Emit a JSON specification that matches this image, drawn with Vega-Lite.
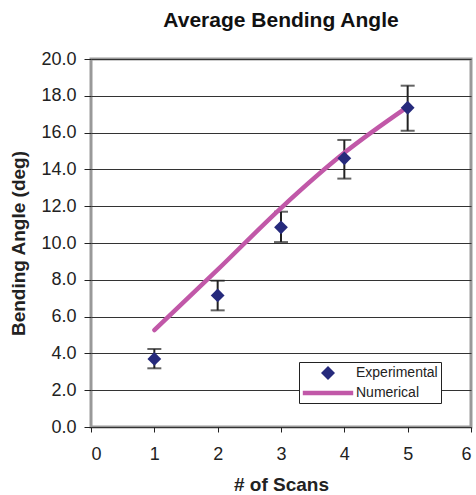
{
  "$schema": "https://vega.github.io/schema/vega-lite/v6.json",
  "autosize": "none",
  "width": 380,
  "height": 368,
  "padding": {"left": 91, "top": 59, "right": 5, "bottom": 68},
  "background": "white",
  "config": {
    "font": "Liberation Sans",
    "view": {"stroke": "#999999", "strokeWidth": 3}
  },
  "title": {
    "text": "Average Bending Angle",
    "fontSize": 21,
    "fontWeight": "bold",
    "color": "#111111",
    "anchor": "middle",
    "frame": "group",
    "offset": 19
  },
  "data": {
    "values": [
      {"scan": 1, "exp": 3.7, "lo": 3.19, "hi": 4.24, "num": 5.27},
      {"scan": 2, "exp": 7.15, "lo": 6.34, "hi": 7.95, "num": 8.55},
      {"scan": 3, "exp": 10.85, "lo": 10.05, "hi": 11.7, "num": 11.9},
      {"scan": 4, "exp": 14.6, "lo": 13.5, "hi": 15.6, "num": 14.9},
      {"scan": 5, "exp": 17.35, "lo": 16.1, "hi": 18.55, "num": 17.4}
    ]
  },
  "encoding": {
    "x": {
      "field": "scan",
      "type": "quantitative",
      "scale": {"domain": [0, 6], "nice": false},
      "axis": {
        "title": "# of Scans",
        "values": [0, 1, 2, 3, 4, 5, 6],
        "tickCount": 20,
        "format": "d",
        "grid": false,
        "domain": false,
        "ticks": true,
        "tickColor": "#222222",
        "tickSize": 5,
        "labelFontSize": 18,
        "labelColor": "#222222",
        "labelPadding": 13,
        "labelOverlap": false,
        "titleFontSize": 19,
        "titleFontWeight": "bold",
        "titleColor": "#222222",
        "titlePadding": 12
      }
    }
  },
  "layer": [
    {
      "mark": {"type": "rule", "color": "#222222", "strokeWidth": 2},
      "encoding": {
        "y": {
          "field": "lo",
          "type": "quantitative",
          "scale": {"domain": [0, 20], "nice": false},
          "axis": {
            "title": "Bending Angle (deg)",
            "values": [0, 2, 4, 6, 8, 10, 12, 14, 16, 18, 20],
            "tickCount": 20,
            "format": ".1f",
            "grid": true,
            "gridColor": "#333333",
            "gridWidth": 1,
            "domain": false,
            "tickColor": "#222222",
            "tickSize": 7,
            "labelFontSize": 18,
            "labelColor": "#222222",
            "labelPadding": 8,
            "labelOverlap": false,
            "titleFontSize": 19,
            "titleFontWeight": "bold",
            "titleColor": "#222222",
            "titlePadding": 12
          }
        },
        "y2": {"field": "hi"}
      }
    },
    {
      "mark": {"type": "tick", "orient": "horizontal", "color": "#222222", "size": 14, "thickness": 2},
      "encoding": {
        "y": {"field": "lo", "type": "quantitative"}
      }
    },
    {
      "mark": {"type": "tick", "orient": "horizontal", "color": "#222222", "size": 14, "thickness": 2},
      "encoding": {
        "y": {"field": "hi", "type": "quantitative"}
      }
    },
    {
      "mark": {"type": "line", "color": "#C158A8", "strokeWidth": 4.5, "strokeCap": "round", "interpolate": "monotone"},
      "encoding": {
        "y": {"field": "num", "type": "quantitative"}
      }
    },
    {
      "mark": {"type": "point", "filled": true, "size": 190, "opacity": 1},
      "encoding": {
        "y": {"field": "exp", "type": "quantitative"},
        "shape": {
          "datum": "Experimental",
          "scale": {"domain": ["Experimental", "Numerical"], "range": ["diamond", "M-3.6,-0.32H3.6V0.32H-3.6Z"]},
          "legend": {
            "title": null,
            "orient": "none",
            "legendX": 208,
            "legendY": 303,
            "strokeColor": "#222222",
            "fillColor": "white",
            "padding": 3,
            "rowPadding": 5,
            "symbolSize": 196,
            "symbolOffset": 18,
            "labelOffset": 20,
            "labelFontSize": 14,
            "labelColor": "#222222"
          }
        },
        "color": {
          "datum": "Experimental",
          "scale": {"domain": ["Experimental", "Numerical"], "range": ["#262A7C", "#C158A8"]},
          "legend": {
            "title": null,
            "orient": "none",
            "legendX": 208,
            "legendY": 303,
            "strokeColor": "#222222",
            "fillColor": "white",
            "padding": 3,
            "rowPadding": 5,
            "symbolSize": 196,
            "symbolOffset": 18,
            "labelOffset": 20,
            "labelFontSize": 14,
            "labelColor": "#222222"
          }
        }
      }
    }
  ]
}
